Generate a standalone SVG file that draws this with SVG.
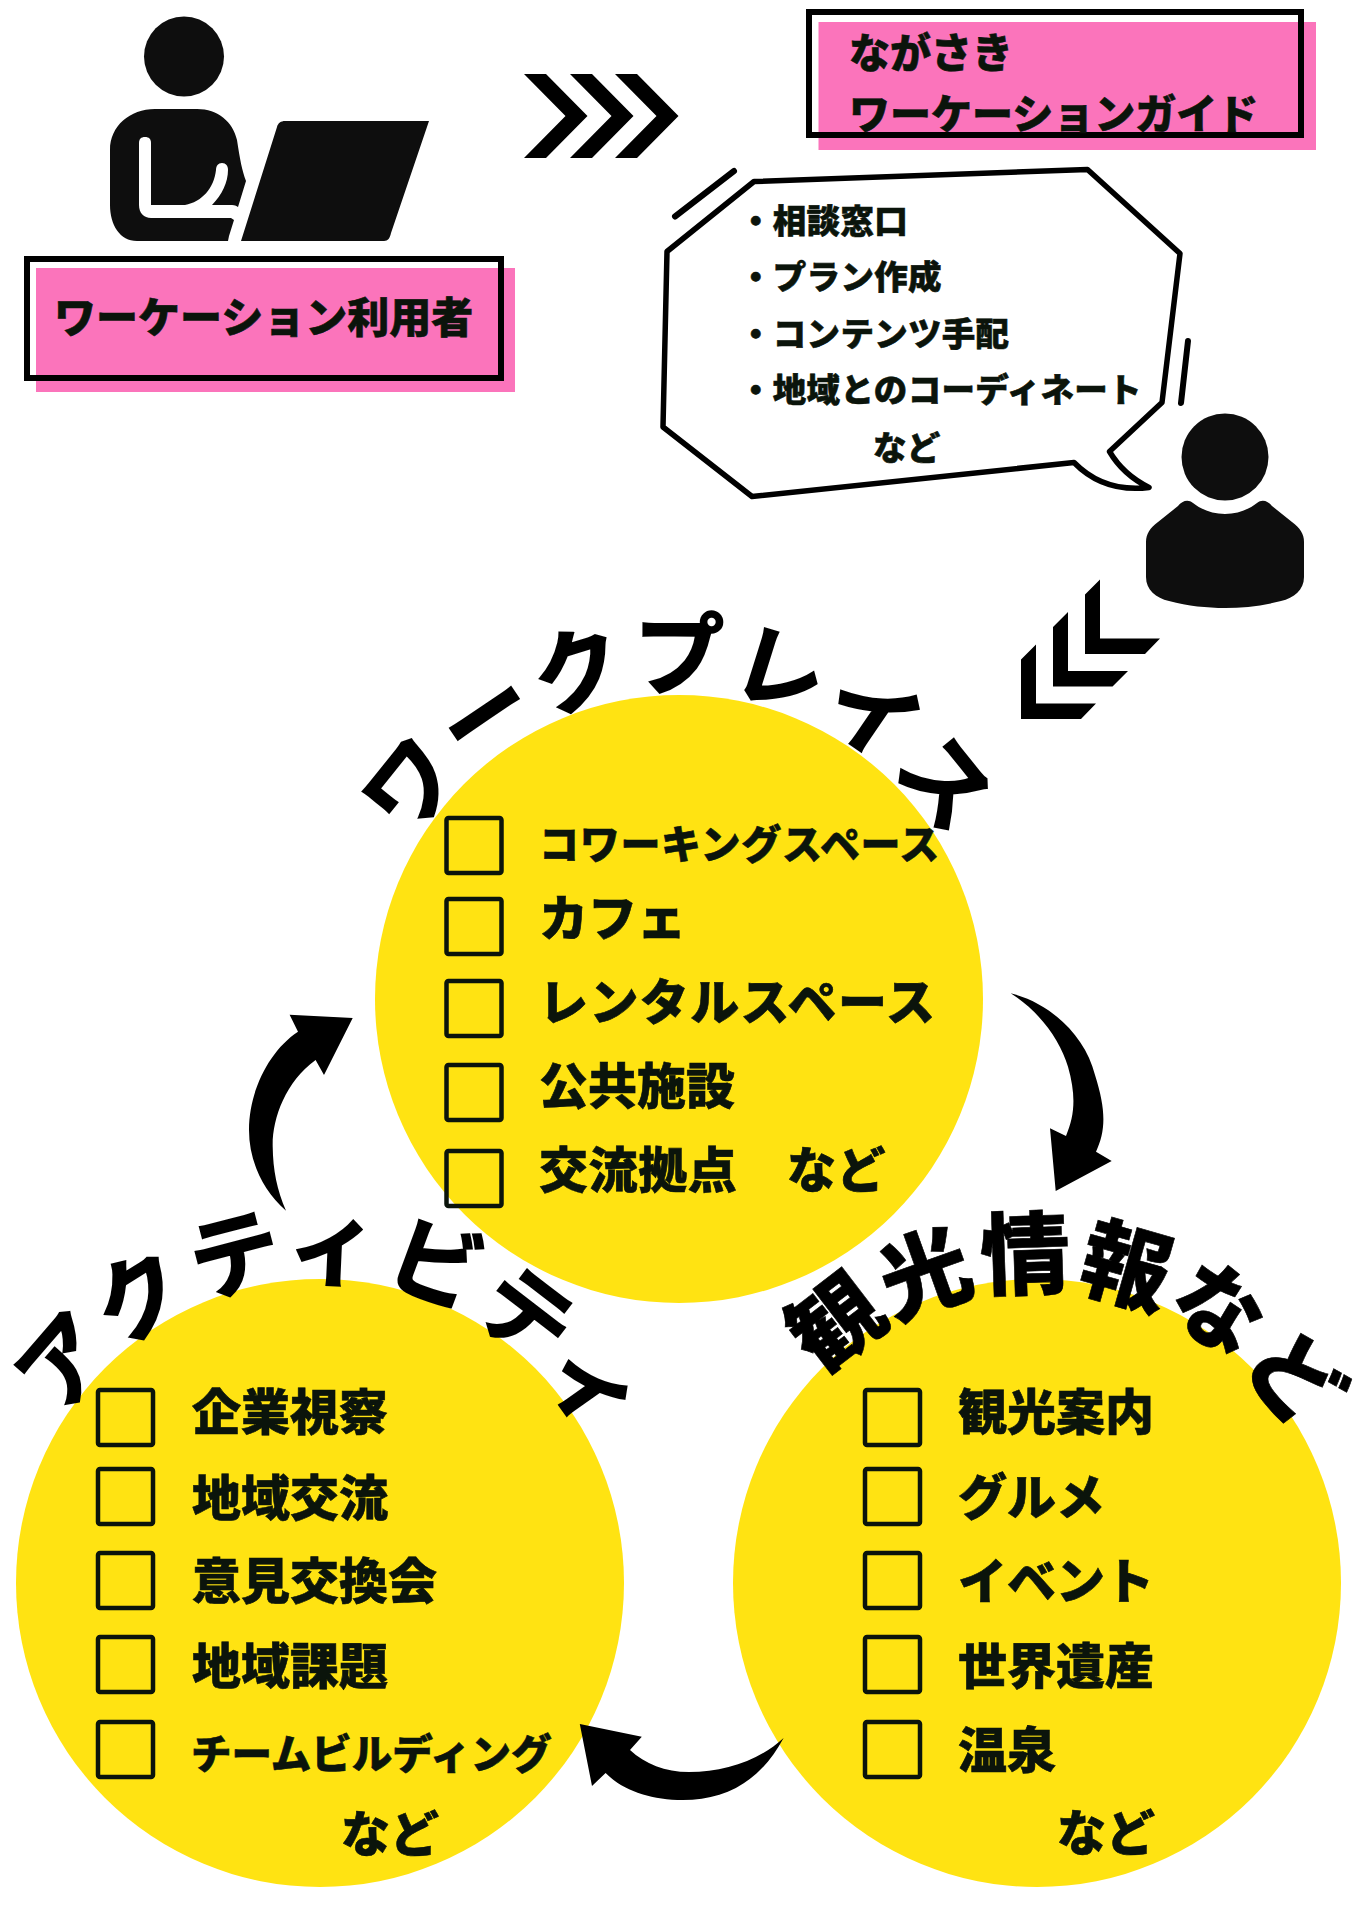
<svg xmlns="http://www.w3.org/2000/svg" width="1358" height="1920" viewBox="0 0 1358 1920">
<style>
text{font-family:"Noto Sans CJK JP","Noto Sans",sans-serif;font-weight:900;fill:#0b140b;stroke:#0b140b;stroke-width:.6}
.k{fill:#0e0e0e}
.b{fill:#000}
.pink{fill:#fb74bb}
.frame{fill:none;stroke:#000;stroke-width:6}
.y{fill:#ffe312}
.c{fill:none;stroke:#0b140b;stroke-width:4.5}
.t{font-size:49px}
.s{font-size:33.500px;letter-spacing:.3px}
.h{font-size:41px}
.arc{font-size:90px;fill:#000;stroke:#000}
.thin{font-weight:700;stroke-width:2}
.line{fill:none;stroke:#000;stroke-width:6;stroke-linecap:round}
</style>
<defs>
<path id="arcTop" d="M 368 999 A 311 311 0 0 1 990 999"/>
<path id="arcLeft" d="M 14 1583 A 306 306 0 0 1 626 1583"/>
<path id="arcRight" d="M 741 1583 A 296 296 0 0 1 1333 1583"/>
<rect id="cb" width="55" height="55" rx="2"/>
</defs>

<g id="user">
<ellipse class="k" cx="184" cy="56.500" rx="40" ry="40"/>
<path class="k" fill-rule="evenodd" d="M155 109H197C218 109 233 122 237 140C240 160 242 170 246 181L238 207C235 205 233 205 230 205H212C222 195 228 182 228 170C228 166 226 163 222 163C218 163 216 166 216 170C214 188 202 202 185 205H151V143C151 139 149 137 145 137C141 137 139 139 139 143V205C139 213 144 218 151 218H231L234 220L229 236L228 241H137C120 241 110 225 110 205V150C110 126 130 109 155 109Z"/>
<path class="k" d="M285 121H429L391 233C390 238 388 241 384 241H241L277 127C278 123 281 121 285 121Z"/>
</g>

<g id="user-label">
<rect class="pink" x="36" y="268" width="479" height="124"/>
<rect class="frame" x="27" y="259" width="474" height="119"/>
<text x="54" y="333" font-size="42">ワーケーション利用者</text>
</g>

<g id="guide-label">
<rect class="pink" x="818.500" y="22" width="497.500" height="128"/>
<rect class="frame" x="809" y="12" width="492" height="123"/>
<text class="h" x="849" y="68">ながさき</text>
<text class="h" x="849" y="129">ワーケーションガイド</text>
</g>

<g id="bubble">
<path fill="#fff" stroke="#000" stroke-width="5.500" stroke-linejoin="round" d="M754 181.500L1087.500 169.500L1180 253.500L1162 402.500L1109.500 451.500C1118 466 1132 479 1149 487.500C1120 491 1094 483 1074 462.500L752 496.500L663 427L667 251.500Z"/>
<path class="line" d="M675 216.500L734 171M1188 341L1181 403"/>
<text class="s" x="739" y="233">・相談窓口</text>
<text class="s" x="739" y="289">・プラン作成</text>
<text class="s" x="739" y="346">・コンテンツ手配</text>
<text class="s" x="739" y="402">・地域とのコーディネート</text>
<text class="s" x="873" y="460">など</text>
</g>

<g id="guide">
<circle class="k" cx="1225" cy="457" r="43.500"/>
<path class="k" d="M1178 506C1182 501 1188 499 1193 503C1202 510 1213 514 1225 514C1237 514 1248 510 1257 503C1262 499 1268 501 1272 506L1292 522C1300 528 1304 534 1304 542V577C1304 590 1294 598 1281 601C1262 606 1243 608 1225 608C1207 608 1188 606 1169 601C1156 598 1146 590 1146 577V542C1146 534 1150 528 1158 522Z"/>
</g>

<g id="workplace">
<circle class="y" cx="679" cy="999" r="304"/>
<text class="arc thin" text-anchor="middle"><textPath href="#arcTop" startOffset="50%" letter-spacing="3">ワークプレイス</textPath></text>
<g class="c"><use href="#cb" x="446.500" y="818"/><use href="#cb" x="446.500" y="899"/><use href="#cb" x="446.500" y="981"/><use href="#cb" x="446.500" y="1065"/><use href="#cb" x="446.500" y="1151"/></g>
<text x="539" y="859" font-size="40" letter-spacing=".7">コワーキングスペース</text>
<text class="t" x="539" y="936">カフェ</text>
<text class="t" x="539" y="1020" letter-spacing="1.400">レンタルスペース</text>
<text class="t" x="539" y="1104">公共施設</text>
<text class="t" x="539" y="1188" letter-spacing=".6">交流拠点　など</text>
</g>

<g id="activity">
<circle class="y" cx="320" cy="1583" r="304"/>
<text class="arc thin" text-anchor="middle" transform="rotate(3 320 1583)"><textPath href="#arcLeft" startOffset="50%" letter-spacing="4.500">アクティビティ</textPath></text>
<g class="c"><use href="#cb" x="98" y="1390"/><use href="#cb" x="98" y="1469"/><use href="#cb" x="98" y="1553"/><use href="#cb" x="98" y="1637"/><use href="#cb" x="98" y="1722"/></g>
<text class="t" x="192" y="1430">企業視察</text>
<text class="t" x="192" y="1516">地域交流</text>
<text class="t" x="192" y="1599">意見交換会</text>
<text class="t" x="192" y="1684">地域課題</text>
<text x="191" y="1769" font-size="40.500">チームビルディング</text>
<text class="t" x="341" y="1852">など</text>
</g>

<g id="sightseeing">
<circle class="y" cx="1037" cy="1583" r="304"/>
<text class="arc" text-anchor="middle" transform="rotate(7 1037 1583)"><textPath href="#arcRight" startOffset="50%" letter-spacing="2">観光情報など</textPath></text>
<g class="c"><use href="#cb" x="865" y="1390"/><use href="#cb" x="865" y="1469"/><use href="#cb" x="865" y="1553"/><use href="#cb" x="865" y="1637"/><use href="#cb" x="865" y="1722"/></g>
<text class="t" x="958" y="1430">観光案内</text>
<text class="t" x="958" y="1515">グルメ</text>
<text class="t" x="958" y="1599">イベント</text>
<text class="t" x="958" y="1684">世界遺産</text>
<text class="t" x="958" y="1768">温泉</text>
<text class="t" x="1057" y="1851">など</text>
</g>

<g id="connectors">
<path class="b" id="chev-right" d="M524 74H546L587.500 116L546 158H524L565.500 116ZM570 74H592L633.500 116L592 158H570L611.500 116ZM615 74H637L678.500 116L637 158H615L656.500 116Z"/>
<path class="b" id="chev-left" d="M1100 579.500V638.500H1160L1145 654H1085V594.500ZM1068 612V671H1128L1112.500 686.500H1053V627ZM1036 644.500V703.500H1096L1081 719H1021V659.500Z"/>
<path class="b" id="arrow-w-a" d="M352.700 1018L324 1075L315.600 1060C285 1082 272 1120 272.700 1146.700C273 1170 277 1190 286 1210.700C262 1190 249 1160 249 1130C249 1090 270 1050 298 1031.700L289.600 1014.700Z"/>
<path class="b" id="arrow-a-b" d="M579.800 1724L641.800 1736.700L630 1750C645 1764 665 1772 689 1772C725 1772 760 1760 783.600 1738C760 1782 725 1800 683 1800C650 1800 622 1790 605.600 1773L592 1786Z"/>
<path class="b" id="arrow-b-c" d="M1010.700 993.300C1050 1003 1085 1035 1095 1075C1106 1110 1106 1130 1096 1151.700L1111.700 1161L1055.700 1191L1050 1128.300L1066 1136C1075 1115 1076 1095 1068 1066.700C1060 1040 1040 1012 1010.700 993.300Z"/>
</g>
</svg>
